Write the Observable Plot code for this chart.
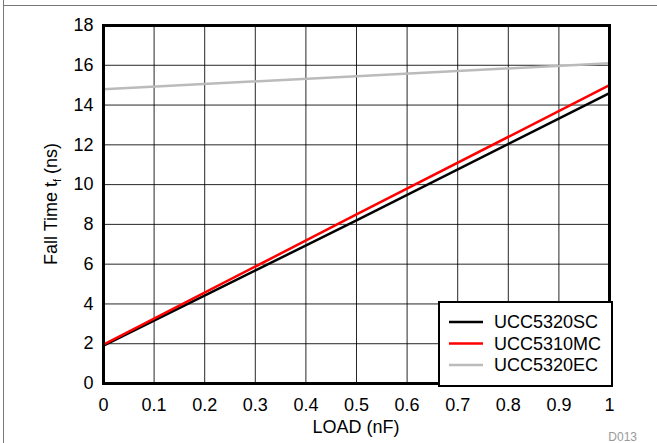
<!DOCTYPE html>
<html><head><meta charset="utf-8">
<script src="https://cdn.jsdelivr.net/npm/d3@7"></script>
<script src="https://cdn.jsdelivr.net/npm/@observablehq/plot@0.6"></script>
<style>
html,body{margin:0;padding:0;background:#fff;}
#wrap{position:relative;width:657px;height:443px;overflow:hidden;font-family:"Liberation Sans",Arial,sans-serif;}
.bt{position:absolute;left:4px;top:5px;width:653px;height:0;border-top:1.5px solid #777;}
.bl{position:absolute;left:3px;top:0;width:0;height:443px;border-left:1.5px solid #777;}
#chart{position:absolute;left:0;top:0;}
</style>
</head><body>
<div id="wrap"><div id="chart"></div><div class="bt"></div><div class="bl"></div></div>
<script>
const loadNF = [0, 0.5, 1];
const ucc5320SC = [1.9, 8.2, 14.6];
const ucc5310MC = [1.95, 8.5, 15.0];
const ucc5320EC = [14.8, 15.45, 16.1];
const seriesNames = ["UCC5320SC", "UCC5310MC", "UCC5320EC"];
const seriesColors = ["#000000", "#ff0000", "#bbbbbb"];
const xTicks = [0, 0.1, 0.2, 0.3, 0.4, 0.5, 0.6, 0.7, 0.8, 0.9, 1];
const yTicks = [0, 2, 4, 6, 8, 10, 12, 14, 16, 18];

const seriesValues = [ucc5320SC, ucc5310MC, ucc5320EC];
const rows = [];
seriesNames.forEach((s, i) => loadNF.forEach((x, j) => rows.push({series: s, x, y: seriesValues[i][j]})));

const fs = 18;
const plot = Plot.plot({
  width: 657, height: 443,
  marginLeft: 103, marginRight: 48, marginTop: 25, marginBottom: 60,
  style: {fontFamily: '"Liberation Sans", Arial, sans-serif', fontSize: fs + "px", color: "#000", background: "transparent"},
  x: {domain: [0, 1], ticks: xTicks, tickFormat: d => String(d), tickSize: 0, tickPadding: 15, label: null},
  y: {domain: [0, 18], ticks: yTicks, tickFormat: d => String(d), tickSize: 0, tickPadding: 10, label: null},
  color: {domain: seriesNames, range: seriesColors},
  marks: [
    Plot.gridX(xTicks, {stroke: "#000", strokeOpacity: 0.85, strokeWidth: 1}),
    Plot.gridY(yTicks, {stroke: "#000", strokeOpacity: 0.85, strokeWidth: 1}),
    Plot.line(rows, {x: "x", y: "y", z: "series", stroke: "series", strokeWidth: 2.5}),
    Plot.frame({stroke: "#000", strokeWidth: 3}),
    Plot.axisX({ticks: xTicks, tickFormat: d => String(d), tickSize: 0, tickPadding: 15, label: null, fontSize: fs}),
    Plot.axisY({ticks: yTicks, tickFormat: d => String(d), tickSize: 0, tickPadding: 10, label: null, fontSize: fs})
  ]
});
document.getElementById("chart").appendChild(plot);

const svg = d3.select(plot);
// x label
svg.append("text").attr("x", 356).attr("y", 433).attr("text-anchor", "middle")
  .attr("font-size", fs).attr("fill", "#000").text("LOAD (nF)");
// y label with subscript
const yl = svg.append("text").attr("transform", "translate(57,204) rotate(-90)")
  .attr("text-anchor", "middle").attr("font-size", fs).attr("fill", "#000");
yl.append("tspan").text("Fall Time t");
yl.append("tspan").attr("font-size", 11).attr("dy", 4).text("f");
yl.append("tspan").attr("dy", -4).text(" (ns)");
// caption code
svg.append("text").attr("x", 637).attr("y", 441).attr("text-anchor", "end")
  .attr("font-size", 12).attr("fill", "#999").text("D013");
// legend
const lg = svg.append("g");
lg.append("rect").attr("x", 439).attr("y", 302).attr("width", 173).attr("height", 84)
  .attr("fill", "#fff").attr("stroke", "#000").attr("stroke-width", 2);
seriesNames.forEach((s, i) => {
  const cy = 322 + i * 21.5;
  lg.append("line").attr("x1", 449).attr("x2", 483).attr("y1", cy).attr("y2", cy)
    .attr("stroke", seriesColors[i]).attr("stroke-width", 2.5);
  lg.append("text").attr("x", 494).attr("y", cy + 6).attr("text-anchor", "start")
    .attr("font-size", fs).attr("fill", "#000").text(s);
});
</script>
</body></html>
